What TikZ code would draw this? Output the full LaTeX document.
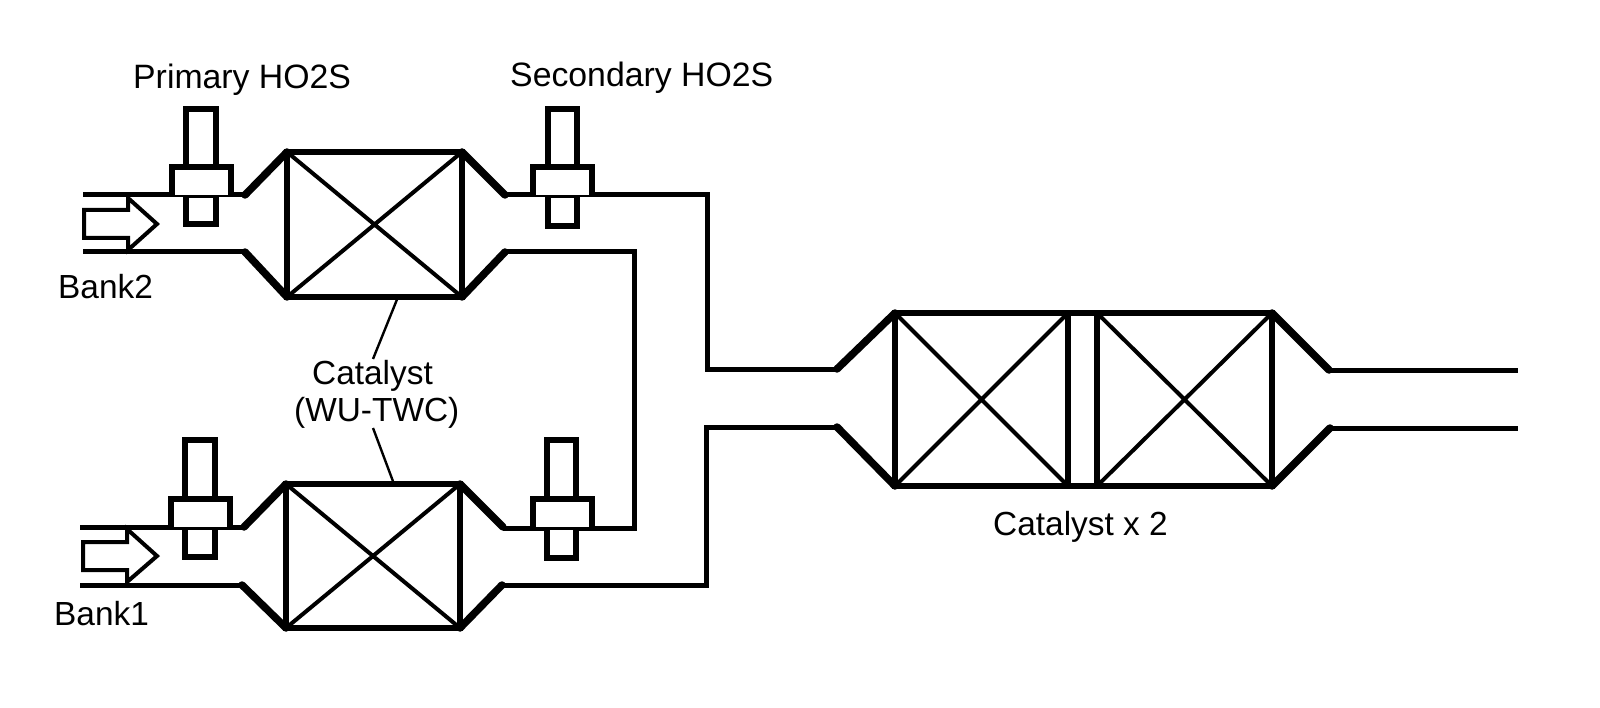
\documentclass[tikz,border=0pt]{standalone}
\usepackage{fontspec}
\setmainfont{Liberation Sans}
\tikzset{
  x=1pt,y=-1pt,
  pipe/.style={line width=5pt,line join=miter,line cap=butt},
  taper/.style={line width=7.5pt,line cap=round},
  shell/.style={line width=5.5pt,line join=miter},
  diag/.style={line width=4pt},
  sensorbody/.style={draw,line width=5.5pt,fill=white},
  flowarrow/.style={draw,line width=4pt,fill=white,line join=miter},
  label/.style={inner sep=0pt,anchor=base west,font=\fontsize{33.4}{38}\selectfont},
  sensorlabel/.style={label,font=\fontsize{33.8}{38}\selectfont},
  leader/.style={line width=2.4pt}
}
% catalyst brick: left right top bottom
\newcommand{\brick}[4]{%
  \draw[shell] (#1,#3) rectangle (#2,#4);
  \draw[diag] (#1,#3) -- (#2,#4) (#1,#4) -- (#2,#3);
}
% sensor: left right top lowerbottom collarleft collarright collartop pipey
\newcommand{\sensor}[8]{%
  \draw[sensorbody] (#1,#3) rectangle (#2,#7);
  \draw[sensorbody] (#1,#8) rectangle (#2,#4);
  \draw[sensorbody] (#5,#8) -- (#5,#7) -- (#6,#7) -- (#6,#8);
}
\begin{document}
\begin{tikzpicture}
\useasboundingbox[fill=white] (0,0) rectangle (1600,708);

% --- Bank 2 pipes ---
\draw[pipe] (83,195) -- (245,195);
\draw[pipe] (83,252) -- (245,252);
\draw[taper] (245,195) -- (287,152);
\draw[taper] (245,252) -- (287,297);
\draw[taper] (462,152) -- (505,195);
\draw[taper] (462,297) -- (505,252);
\draw[pipe] (505,195) -- (707,195) -- (707,369) -- (837,369);
\draw[pipe] (505,252) -- (634,252) -- (634,528) -- (503,528);

% --- Bank 1 pipes ---
\draw[pipe] (80,527) -- (244,527);
\draw[pipe] (80,585) -- (242,585);
\draw[taper] (244,527) -- (286,484);
\draw[taper] (242,585) -- (286,628);
\draw[taper] (460,484) -- (503,527);
\draw[taper] (460,628) -- (502,585);
\draw[pipe] (502,585) -- (706,585) -- (706,427) -- (837,427);

% --- Outlet ---
\draw[taper] (837,369) -- (895,313);
\draw[taper] (837,427) -- (895,486);
\draw[taper] (1272,313) -- (1329,370);
\draw[taper] (1272,486) -- (1330,428);
\draw[pipe] (1329,370) -- (1518,370);
\draw[pipe] (1330,428) -- (1518,428);

% --- Bricks ---
\brick{287}{462}{152}{297}
\brick{286}{460}{484}{628}
\brick{895}{1068}{313}{486}
\brick{1097}{1272}{313}{486}
\draw[shell] (1068,313) -- (1097,313) (1068,486) -- (1097,486);

% --- Sensors ---
\sensor{186}{216}{109}{224}{172}{231}{167}{195}
\sensor{548}{577}{109}{226}{533}{592}{167}{195}
\sensor{185}{215}{440}{557}{171}{230}{499}{527}
\sensor{547}{576}{440}{558}{533}{592}{499}{527}

% --- Flow arrows ---
\draw[flowarrow] (84,210) -- (128,210) -- (128,198) -- (157,224) -- (128,250) -- (128,238) -- (84,238) -- cycle;
\draw[flowarrow] (83,542) -- (127,542) -- (127,529) -- (157,556) -- (127,582) -- (127,570) -- (83,570) -- cycle;

% --- Labels ---
\node[sensorlabel] (primary) at (133,89) {Primary HO2S};
\node[sensorlabel] (secondary) at (510,87) {Secondary HO2S};
\node[label] (bank2) at (58,299) {Bank2};
\node[label] (bank1) at (54,625) {Bank1};
\node[label] (catalyst) at (312,384) {Catalyst};
\node[label] (wutwc) at (294,421) {(WU-TWC)};
\node[label] (catalyst2) at (993,535) {Catalyst x 2};

% --- Leaders ---
\coordinate (upperbrick) at (398,297);
\coordinate (upperend) at (373,359);
\coordinate (lowerbrick) at (394,484);
\coordinate (lowerend) at (373,428);
\draw[leader] (upperbrick) -- (upperend);
\draw[leader] (lowerbrick) -- (lowerend);
\end{tikzpicture}
\end{document}
